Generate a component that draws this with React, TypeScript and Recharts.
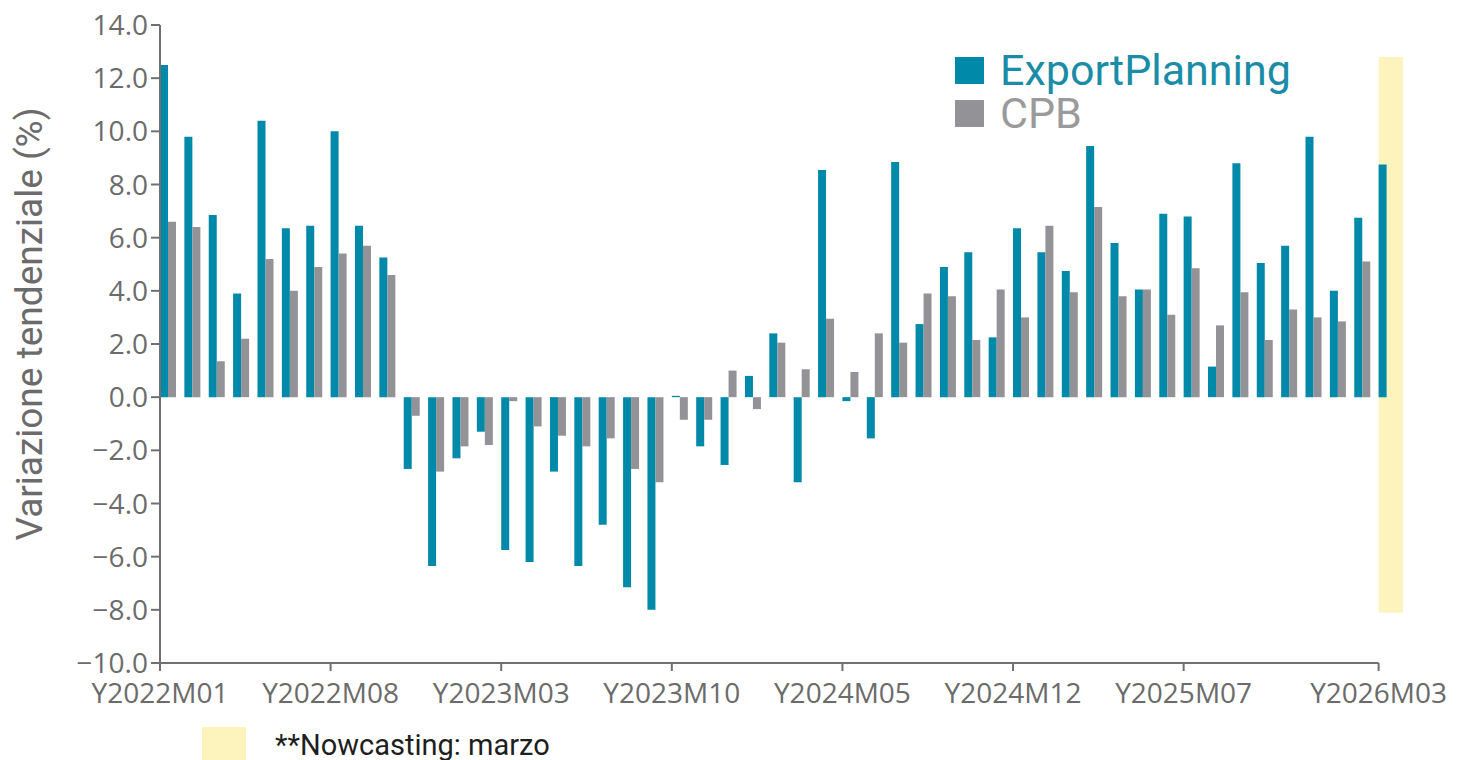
import { BarChart, Bar, XAxis, YAxis, ReferenceArea, ReferenceLine, Legend } from "recharts";

// monthly categories, Y2022M01 .. Y2026M03
const MONTHS = [
  "Y2022M01", "Y2022M02", "Y2022M03", "Y2022M04", "Y2022M05", "Y2022M06",
  "Y2022M07", "Y2022M08", "Y2022M09", "Y2022M10", "Y2022M11", "Y2022M12",
  "Y2023M01", "Y2023M02", "Y2023M03", "Y2023M04", "Y2023M05", "Y2023M06",
  "Y2023M07", "Y2023M08", "Y2023M09", "Y2023M10", "Y2023M11", "Y2023M12",
  "Y2024M01", "Y2024M02", "Y2024M03", "Y2024M04", "Y2024M05", "Y2024M06",
  "Y2024M07", "Y2024M08", "Y2024M09", "Y2024M10", "Y2024M11", "Y2024M12",
  "Y2025M01", "Y2025M02", "Y2025M03", "Y2025M04", "Y2025M05", "Y2025M06",
  "Y2025M07", "Y2025M08", "Y2025M09", "Y2025M10", "Y2025M11", "Y2025M12",
  "Y2026M01", "Y2026M02", "Y2026M03",
];

const EXPORT_PLANNING = [
  12.5, 9.8, 6.85, 3.9, 10.4, 6.35, 6.45, 10.0, 6.45, 5.25, -2.7, -6.35,
  -2.3, -1.3, -5.75, -6.2, -2.8, -6.35, -4.8, -7.15, -8.0, 0.05, -1.85, -2.55,
  0.8, 2.4, -3.2, 8.55, -0.15, -1.55, 8.85, 2.75, 4.9, 5.45, 2.25, 6.35,
  5.45, 4.75, 9.45, 5.8, 4.05, 6.9, 6.8, 1.15, 8.8, 5.05, 5.7, 9.8,
  4.0, 6.75, 8.75,
];

const CPB = [
  6.6, 6.4, 1.35, 2.2, 5.2, 4.0, 4.9, 5.4, 5.7, 4.6, -0.7, -2.8,
  -1.85, -1.8, -0.15, -1.1, -1.45, -1.85, -1.55, -2.7, -3.2, -0.85, -0.85, 1.0,
  -0.45, 2.05, 1.05, 2.95, 0.95, 2.4, 2.05, 3.9, 3.8, 2.15, 4.05, 3.0,
  6.45, 3.95, 7.15, 3.8, 4.05, 3.1, 4.85, 2.7, 3.95, 2.15, 3.3, 3.0,
  2.85, 5.1, null,
];

const SERIES_NAMES = ["ExportPlanning", "CPB"];
const X_TICKS = ["Y2022M01", "Y2022M08", "Y2023M03", "Y2023M10", "Y2024M05", "Y2024M12", "Y2025M07", "Y2026M03"];
const Y_TICKS = [-10, -8, -6, -4, -2, 0, 2, 4, 6, 8, 10, 12, 14];

const NOWCAST_MONTH = "Y2026M03";
const NOWCAST_LOW = -8.1;
const NOWCAST_HIGH = 12.8;

const BLUE = "#0089a8";
const GRAY = "#929297";
const AXIS = "#707070";
const LABEL = "#6b6b6b";
const YELLOW = "#fdf4bd";

const W = 1460;
const H = 760;
const LEFT = 160;
const RIGHT = 57;
const TOP = 25;
const X_AXIS_H = 97;
const BAND = (W - LEFT - RIGHT) / MONTHS.length;

const data = MONTHS.map((month, i) => ({
  month,
  ep: EXPORT_PLANNING[i],
  cpb: CPB[i],
}));

// ticks sit on the left edge of each month's band
function XTick({ x, y, payload }: any) {
  if (!X_TICKS.includes(payload.value)) return null;
  const x0 = x - BAND / 2;
  return (
    <g>
      <line x1={x0} y1={y - 8} x2={x0} y2={y} stroke={AXIS} strokeWidth={2} />
      <text x={x0} y={y + 32} textAnchor="middle" fill={LABEL} fontSize={28} fontFamily="'Open Sans'">
        {payload.value}
      </text>
    </g>
  );
}

function YTick({ x, y, payload }: any) {
  const v = payload.value as number;
  const label = (v < 0 ? "\u2212" : "") + Math.abs(v).toFixed(1);
  return (
    <text x={x} y={y} dy="0.36em" textAnchor="end" fill={LABEL} fontSize={28} fontFamily="'Open Sans'">
      {label}
    </text>
  );
}

function YTitle() {
  return (
    <text
      x={42}
      y={324}
      transform="rotate(-90 42 324)"
      textAnchor="middle"
      fill={LABEL}
      fontSize={37}
      fontFamily="Roboto"
    >
      Variazione tendenziale (%)
    </text>
  );
}

function SeriesLegend({ payload }: any) {
  const textColors: Record<string, string> = { ExportPlanning: "#1a8ca7", CPB: "#9a9a9a" };
  const items = SERIES_NAMES.map((name) => (payload || []).find((p: any) => p.value === name)).filter(Boolean);
  return (
    <div style={{ position: "relative", width: W, height: 0 }}>
      {items.map((p: any, i: number) => (
        <div
          key={p.value}
          style={{ position: "absolute", left: 955, top: 57 + i * 43, display: "flex", alignItems: "center", height: 27 }}
        >
          <span style={{ display: "inline-block", width: 29, height: 27, background: p.color, marginRight: 16 }} />
          <span style={{ fontFamily: "Roboto", fontSize: 43, lineHeight: "27px", color: textColors[p.value] }}>
            {p.value}
          </span>
        </div>
      ))}
    </div>
  );
}

export default function App() {
  return (
    <div style={{ position: "absolute", left: 0, top: 0, width: W, height: H, overflow: "hidden", background: "#fff" }}>
      <BarChart
        width={W}
        height={H}
        data={data}
        margin={{ top: TOP, right: RIGHT, bottom: 0, left: 0 }}
        barCategoryGap={0}
        barGap={0}
      >
        <ReferenceArea
          x1={NOWCAST_MONTH}
          x2={NOWCAST_MONTH}
          y1={NOWCAST_LOW}
          y2={NOWCAST_HIGH}
          fill={YELLOW}
          fillOpacity={1}
          stroke="none"
          ifOverflow="visible"
        />
        <XAxis
          dataKey="month"
          interval={0}
          height={X_AXIS_H}
          axisLine={false}
          tickLine={false}
          tickSize={8}
          tickMargin={0}
          tick={XTick}
        />
        <YAxis
          width={LEFT}
          domain={[-10, 14]}
          ticks={Y_TICKS}
          allowDataOverflow
          axisLine={{ stroke: AXIS, strokeWidth: 2 }}
          tickLine={{ stroke: AXIS, strokeWidth: 2 }}
          tickSize={9}
          tickMargin={3}
          tick={YTick}
          label={{ content: YTitle }}
        />
        <ReferenceLine
          segment={[
            { x: MONTHS[0], y: -10 },
            { x: MONTHS[MONTHS.length - 1], y: -10 },
          ]}
          position="start"
          stroke={AXIS}
          strokeWidth={2}
        />
        <Bar dataKey="ep" name="ExportPlanning" fill={BLUE} isAnimationActive={false} />
        <Bar dataKey="cpb" name="CPB" fill={GRAY} isAnimationActive={false} />
        {/* empty third slot keeps the gap to the right of each pair */}
        <Bar dataKey="gap" fill="none" legendType="none" isAnimationActive={false} />
        <Legend layout="vertical" align="center" verticalAlign="middle" wrapperStyle={{ left: 0, top: 0, width: W }} content={SeriesLegend} />
      </BarChart>
      <div style={{ position: "absolute", left: 202, top: 727, width: 44, height: 33, background: YELLOW }} />
      <div
        style={{ position: "absolute", left: 275, top: 733, fontFamily: "Roboto", fontSize: 29, lineHeight: "24px", color: "#1e1e1e", whiteSpace: "nowrap" }}
      >
        **Nowcasting: marzo
      </div>
    </div>
  );
}
